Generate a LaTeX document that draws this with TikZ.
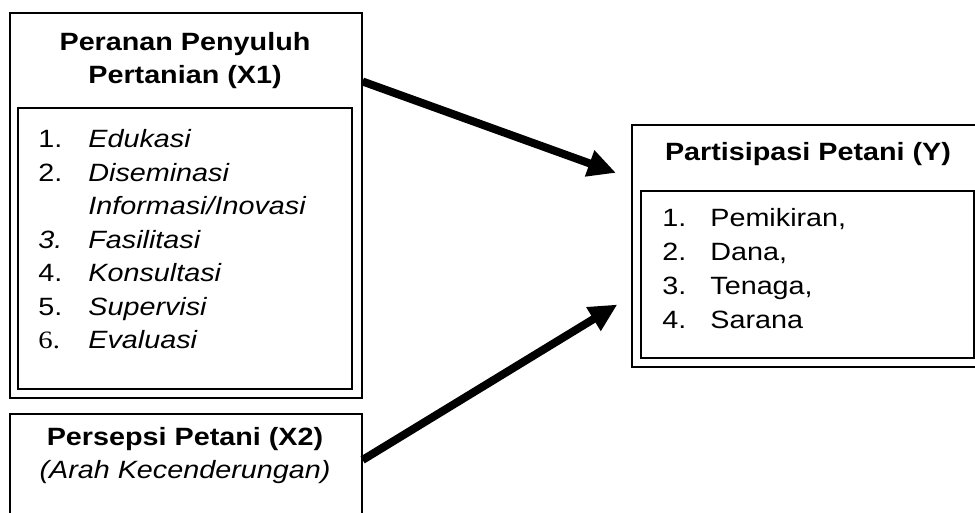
\documentclass[tikz,border=0pt]{standalone}
\usepackage{fontspec}
\setmainfont[FakeStretch=1.15]{Liberation Sans}
\newfontfamily\numserif[FakeStretch=1.15]{Liberation Serif}
\usetikzlibrary{arrows.meta}
\tikzset{box/.style = {draw, line width=0.8pt, inner sep=0, anchor=north west}}
\tikzset{title/.style = {font=\fontsize{12.5}{16.5}\selectfont\bfseries, align=center,
                         inner sep=0, anchor=north}}
\tikzset{items/.style = {font=\fontsize{12.5}{16.75}\selectfont, align=left,
                         inner sep=0, anchor=north west}}
\tikzset{flow/.style = {line width=4pt, shorten >=8pt,
                        -{Triangle[length=14pt, width=13pt]}}}
\newcommand{\nr}[2][25pt]{\makebox[#1][l]{#2}}

\begin{document}
\begin{tikzpicture}[x=0.5pt, y=-0.5pt]
    \clip (0, 0) rectangle (975, 513);

    % left: peranan penyuluh
    \node [box, minimum width=176pt, minimum height=192.5pt] (x1) at (9, 12) {};
    \node [title] (x1title) at (185, 32) {Peranan Penyuluh\\Pertanian (X1)};
    \node [box, minimum width=167pt, minimum height=140.5pt] (x1list) at (17, 107) {};
    \node [items] (x1items) at (38, 129) {\nr{1.}\textit{Edukasi}\\
                                         \nr{2.}\textit{Diseminasi}\\
                                         \nr{}\textit{Informasi/Inovasi}\\
                                         \nr{\textit{3.}}\textit{Fasilitasi}\\
                                         \nr{4.}\textit{Konsultasi}\\
                                         \nr{5.}\textit{Supervisi}\\
                                         \nr{\numserif 6.}\textit{Evaluasi}};

    % left: persepsi petani
    \node [box, minimum width=176pt, minimum height=58.5pt] (x2) at (9, 413) {};
    \node [title] (x2title) at (185, 427) {Persepsi Petani (X2)\\
                                           \mdseries\itshape (Arah Kecenderungan)};

    % right: partisipasi petani
    \node [box, minimum width=175pt, minimum height=121pt] (ybox) at (631, 124) {};
    \node [title] (ytitle) at (808, 142) {Partisipasi Petani (Y)};
    \node [box, minimum width=166.5pt, minimum height=83.5pt] (ylist) at (640, 190) {};
    \node [items, font=\fontsize{12.5}{17}\selectfont] (yitems) at (662, 208)
          {\nr[24pt]{1.}Pemikiran,\\
           \nr[24pt]{2.}Dana,\\
           \nr[24pt]{3.}Tenaga,\\
           \nr[24pt]{4.}Sarana};

    \draw [flow] (x1.35.3) -- (ybox.159);
    \draw [flow] (x2.4.4) -- (ybox.196.1);
\end{tikzpicture}
\end{document}
